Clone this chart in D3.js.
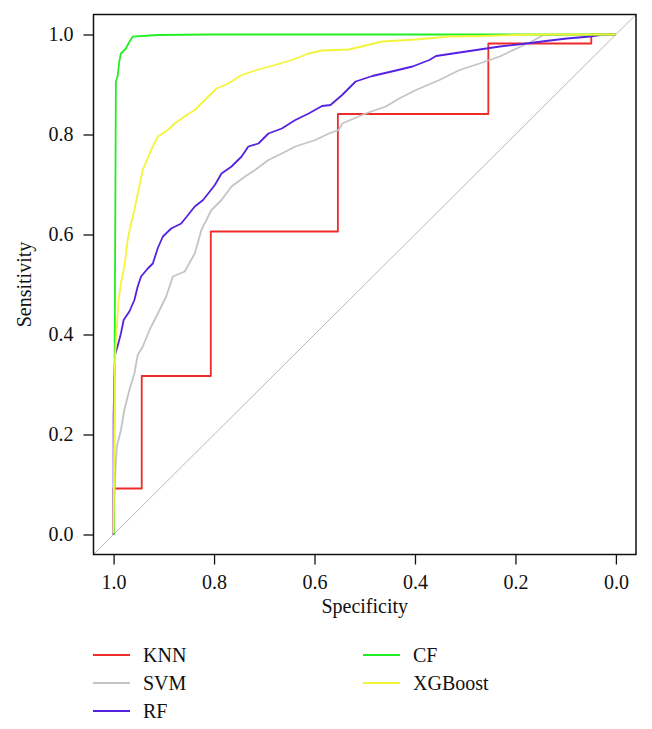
<!DOCTYPE html>
<html>
<head>
<meta charset="utf-8">
<script src="https://cdn.jsdelivr.net/npm/d3@7"></script>
<style>
  body { margin: 0; background: #fff; }
</style>
</head>
<body>
<div id="chart"></div>
<script>
// ROC curves: specificity (x, reversed) and sensitivity (y)
const knnSpec = [1, 1, 0.944, 0.944, 0.8065, 0.8065, 0.5535, 0.5535, 0.254, 0.254, 0.049, 0.049, 0];
const knnSens = [0, 0.092, 0.092, 0.317, 0.317, 0.606, 0.606, 0.841, 0.841, 0.982, 0.982, 1, 1];

const svmSpec = [1, 0.9986, 0.996, 0.9934, 0.9854, 0.9786, 0.9686, 0.9586, 0.952, 0.9419, 0.9285, 0.9119, 0.8953, 0.8819, 0.8585, 0.8384, 0.8252, 0.8052, 0.7852, 0.7652, 0.7383, 0.7183, 0.6917, 0.6651, 0.6382, 0.5982, 0.5716, 0.5516, 0.5449, 0.4981, 0.4581, 0.4314, 0.398, 0.3514, 0.3113, 0.2713, 0.2312, 0.1978, 0.1712, 0.1445, 0];
const svmSens = [0, 0.069, 0.136, 0.176, 0.209, 0.249, 0.289, 0.322, 0.359, 0.376, 0.409, 0.442, 0.476, 0.516, 0.526, 0.562, 0.609, 0.649, 0.669, 0.696, 0.716, 0.729, 0.749, 0.762, 0.776, 0.789, 0.802, 0.809, 0.822, 0.842, 0.856, 0.872, 0.889, 0.909, 0.929, 0.942, 0.956, 0.972, 0.984, 0.999, 1];

const rfSpec = [1, 1, 0.9986, 0.997, 0.9906, 0.9854, 0.98, 0.9686, 0.9586, 0.952, 0.9453, 0.9319, 0.9219, 0.9119, 0.9019, 0.8853, 0.8653, 0.8384, 0.8218, 0.7984, 0.7852, 0.7652, 0.7451, 0.7317, 0.7117, 0.6917, 0.6651, 0.6382, 0.6116, 0.585, 0.5682, 0.545, 0.5181, 0.4849, 0.438, 0.4048, 0.3714, 0.358, 0.3113, 0.2713, 0.2312, 0.1778, 0.1311, 0.0977, 0.0511, 0.031, 0];
const rfSens = [0, 0.236, 0.309, 0.359, 0.382, 0.402, 0.429, 0.446, 0.469, 0.496, 0.516, 0.532, 0.542, 0.573, 0.596, 0.612, 0.622, 0.656, 0.669, 0.699, 0.722, 0.736, 0.756, 0.776, 0.782, 0.802, 0.812, 0.829, 0.842, 0.857, 0.859, 0.879, 0.906, 0.917, 0.928, 0.936, 0.949, 0.957, 0.964, 0.970, 0.976, 0.982, 0.988, 0.992, 0.996, 0.999, 1];

const cfSpec = [0.9994, 0.9974, 0.9954, 0.992, 0.9886, 0.9854, 0.9754, 0.9686, 0.962, 0.912, 0.812, 0];
const cfSens = [0, 0.469, 0.906, 0.916, 0.946, 0.962, 0.972, 0.9856, 0.9956, 0.999, 1, 1];

const xgbSpec = [1, 0.9986, 0.9974, 0.9954, 0.992, 0.99, 0.9854, 0.9786, 0.972, 0.966, 0.9586, 0.952, 0.942, 0.9253, 0.9119, 0.8919, 0.8785, 0.8585, 0.8384, 0.8184, 0.7952, 0.7718, 0.7451, 0.7183, 0.6783, 0.645, 0.6116, 0.585, 0.5315, 0.4649, 0.398, 0.3313, 0.2647, 0.165, 0];
const xgbSens = [0.003, 0.203, 0.336, 0.389, 0.436, 0.469, 0.502, 0.536, 0.589, 0.619, 0.649, 0.682, 0.729, 0.769, 0.796, 0.809, 0.822, 0.836, 0.849, 0.869, 0.892, 0.902, 0.919, 0.928, 0.939, 0.949, 0.962, 0.968, 0.970, 0.986, 0.990, 0.996, 0.997, 1, 1];

const models = ["KNN", "SVM", "RF", "CF", "XGBoost"];
const specs = [knnSpec, svmSpec, rfSpec, cfSpec, xgbSpec];
const sens = [knnSens, svmSens, rfSens, cfSens, xgbSens];
const colors = ["#ee2a2a", "#c4c4c4", "#5522e0", "#22ee22", "#f4f43a"];
const tickValues = [1.0, 0.8, 0.6, 0.4, 0.2, 0.0];

const serif = "'Liberation Serif', 'DejaVu Serif', 'Times New Roman', serif";

const width = 652, height = 729;
const svg = d3.select("#chart").append("svg")
  .attr("width", width).attr("height", height);

const plotLeft = 93.5, plotRight = 636, plotTop = 14.5, plotBottom = 554.5;
const x = d3.scaleLinear().domain([1.04, -0.04]).range([plotLeft, plotRight]);
const y = d3.scaleLinear().domain([-0.04, 1.04]).range([plotBottom, plotTop]);

// chance diagonal
svg.append("line")
  .attr("x1", x(1.04)).attr("y1", y(-0.04))
  .attr("x2", x(-0.04)).attr("y2", y(1.04))
  .attr("stroke", "#b8b8b8").attr("stroke-width", 1);

const line = d3.line().x(d => x(d[0])).y(d => y(d[1]));

models.forEach((m, i) => {
  svg.append("path")
    .datum(specs[i].map((s, j) => [s, sens[i][j]]))
    .attr("d", line)
    .attr("fill", "none")
    .attr("stroke", colors[i])
    .attr("stroke-width", 1.8)
    .attr("stroke-linejoin", "round");
});

// box
svg.append("rect")
  .attr("x", plotLeft).attr("y", plotTop)
  .attr("width", plotRight - plotLeft).attr("height", plotBottom - plotTop)
  .attr("fill", "none").attr("stroke", "#111").attr("stroke-width", 1.5);

const fmt = d3.format(".1f");

const xAxis = svg.append("g")
  .attr("transform", `translate(0,${plotBottom})`)
  .call(d3.axisBottom(x).tickValues(tickValues).tickFormat(fmt).tickSize(10).tickPadding(10));
const yAxis = svg.append("g")
  .attr("transform", `translate(${plotLeft},0)`)
  .call(d3.axisLeft(y).tickValues(tickValues).tickFormat(fmt).tickSize(10).tickPadding(10));

[xAxis, yAxis].forEach(g => {
  g.attr("font-family", null).attr("font-size", null);
  g.select(".domain").remove();
  g.selectAll(".tick line").attr("stroke", "#111").attr("stroke-width", 1.3);
  g.selectAll(".tick text")
    .style("font-family", serif).style("font-size", "20px").attr("fill", "#111");
});

svg.append("text")
  .attr("x", (plotLeft + plotRight) / 2).attr("y", 613)
  .attr("text-anchor", "middle")
  .style("font-family", serif).style("font-size", "20px").attr("fill", "#111")
  .text("Specificity");

svg.append("text")
  .attr("transform", `translate(31,${(plotTop + plotBottom) / 2}) rotate(-90)`)
  .attr("text-anchor", "middle")
  .style("font-family", serif).style("font-size", "20px").attr("fill", "#111")
  .text("Sensitivity");

// legend: two columns
const legend = svg.append("g");
models.forEach((m, i) => {
  const col = i < 3 ? 0 : 1;
  const row = i < 3 ? i : i - 3;
  const lx = col === 0 ? 93 : 363;
  const ly = 655 + row * 28;
  legend.append("line")
    .attr("x1", lx).attr("x2", lx + 37)
    .attr("y1", ly).attr("y2", ly)
    .attr("stroke", colors[i]).attr("stroke-width", 1.8);
  legend.append("text")
    .attr("x", lx + 50).attr("y", ly)
    .attr("dy", "0.33em")
    .style("font-family", serif).style("font-size", "20px").attr("fill", "#111")
    .text(m);
});
</script>
</body>
</html>
